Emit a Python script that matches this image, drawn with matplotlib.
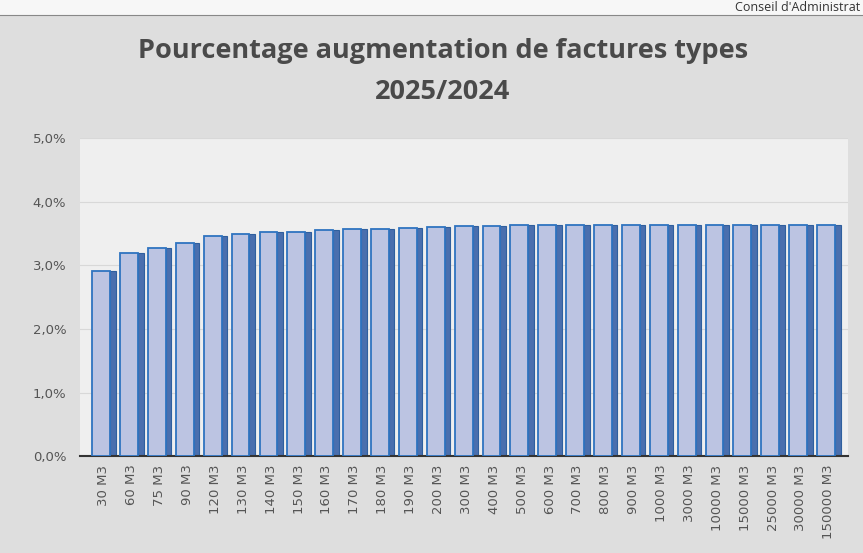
import numpy as np
import matplotlib.pyplot as plt
from matplotlib.patches import Rectangle
from matplotlib.ticker import FuncFormatter

categories = ["30 M3", "60 M3", "75 M3", "90 M3", "120 M3", "130 M3", "140 M3",
              "150 M3", "160 M3", "170 M3", "180 M3", "190 M3", "200 M3",
              "300 M3", "400 M3", "500 M3", "600 M3", "700 M3", "800 M3",
              "900 M3", "1000 M3", "3000 M3", "10000 M3", "15000 M3",
              "25000 M3", "30000 M3", "150000 M3"]
pct = [2.92, 3.19, 3.28, 3.36, 3.47, 3.50, 3.52, 3.53, 3.56, 3.57, 3.58,
       3.59, 3.60, 3.62, 3.62, 3.63, 3.63, 3.63, 3.63, 3.63, 3.63, 3.63,
       3.63, 3.63, 3.63, 3.63, 3.63]

title_l1 = "Pourcentage augmentation de factures types"
title_l2 = "2025/2024"

fig = plt.figure(figsize=(8.63, 5.53), dpi=100)
fig.patch.set_facecolor("#f7f7f7")

# fond gris de la zone graphique (scan)
fig.patches.append(Rectangle((0.0, 0.0), 1.0, 0.972, transform=fig.transFigure,
                             facecolor="#dedede", edgecolor="none", zorder=-2))
fig.add_artist(plt.Line2D([0.0, 1.0], [0.972, 0.972], color="#888888", lw=0.8))
fig.text(0.997, 0.986, "Conseil d'Administrat", ha="right", va="center",
         fontsize=9, color="#333333", family="Open Sans")

ax = fig.add_axes([0.093, 0.175, 0.89, 0.575])
ax.set_facecolor("#efefef")

x = np.arange(len(categories))
front_w = 0.64
side_w = 0.2
off = -0.1
ax.bar(x + off, pct, width=front_w, color="#bcc4e2", edgecolor="#2f74c0",
       linewidth=1.3, zorder=3)
ax.bar(x + off + front_w / 2, pct, width=side_w, align="edge",
       color="#4a6fae", edgecolor="#2f5f9e", linewidth=0.8, zorder=2)

ax.set_ylim(0, 5)
ax.set_xlim(-0.85, len(categories) - 0.3)
ax.set_yticks(np.arange(0, 5.01, 1))
ax.yaxis.set_major_formatter(FuncFormatter(lambda v, p: f"{v:.1f}%".replace(".", ",")))
ax.set_xticks(x)
ax.set_xticklabels(categories, rotation=90)
ax.tick_params(axis="both", length=0, labelsize=9.5, colors="#555555")
ax.tick_params(axis="y", pad=10)
ax.tick_params(axis="x", pad=6)
ax.grid(axis="y", color="#d8d8d8", linewidth=0.8, zorder=0)
for s in ["top", "right", "left"]:
    ax.spines[s].set_visible(False)
ax.spines["bottom"].set_color("#333333")
ax.spines["bottom"].set_linewidth(1.5)

fig.text(0.513, 0.908, title_l1, ha="center", va="center", fontsize=19.5,
         fontweight="bold", color="#4a4a4a", family="Open Sans")
fig.text(0.513, 0.833, title_l2, ha="center", va="center", fontsize=19.5,
         fontweight="bold", color="#4a4a4a", family="Open Sans")

fig.savefig("out.png", dpi=100, facecolor=fig.get_facecolor())
